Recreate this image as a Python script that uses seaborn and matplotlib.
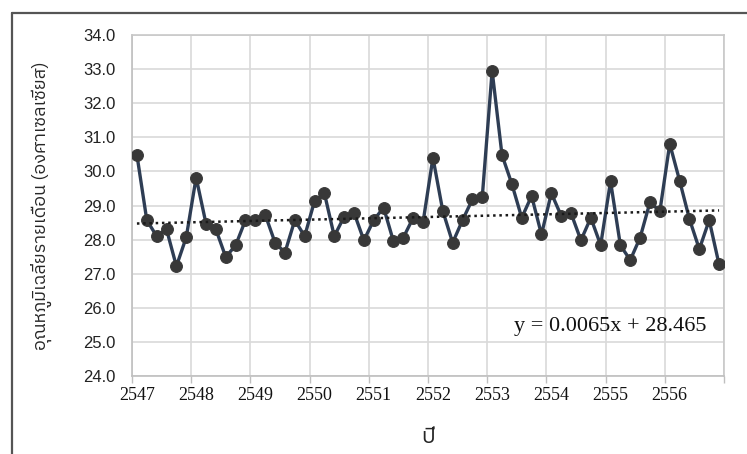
import numpy as np
import pandas as pd
import matplotlib
matplotlib.use("Agg")
import matplotlib.pyplot as plt
from matplotlib import font_manager as fm
from matplotlib.lines import Line2D
import seaborn as sns

# ---------------- data ----------------
year_labels = ["2547", "2548", "2549", "2550", "2551",
               "2552", "2553", "2554", "2555", "2556"]
temps = [30.48, 28.57, 28.10, 28.30, 27.22, 28.07, 29.82, 28.47, 28.30, 27.49,
         27.83, 28.57, 28.57, 28.73, 27.91, 27.62, 28.57, 28.10, 29.13, 29.36,
         28.10, 28.67, 28.79, 27.98, 28.57, 28.94, 27.95, 28.06, 28.64, 28.51,
         30.40, 28.84, 27.91, 28.57, 29.18, 29.25, 32.95, 30.48, 29.63, 28.64,
         29.28, 28.15, 29.36, 28.70, 28.77, 27.98, 28.64, 27.84, 29.71, 27.83,
         27.40, 28.06, 29.10, 28.83, 30.81, 29.73, 28.60, 27.72, 28.57, 27.27]
trend_slope = 0.0065
trend_intercept = 28.465
equation_text = "y = 0.0065x + 28.465"
y_label = "อุณหภูมิเฉลี่ยรายเดือน (องศาเซลเซียส)"
x_label = "ปี"
points_per_year = 6


def find_thai_font():
    try:
        from fontTools.ttLib import TTFont
    except Exception:
        return None
    prefer = []
    other = []
    for f in fm.fontManager.ttflist:
        try:
            tt = TTFont(f.fname, fontNumber=0, lazy=True)
            cmap = tt.getBestCmap()
            if cmap and 0x0E1B in cmap and 0x0E35 in cmap and 0x0E2D in cmap:
                if "sans" in f.name.lower():
                    prefer.append(f.name)
                else:
                    other.append(f.name)
        except Exception:
            pass
    if prefer:
        return prefer[0]
    if other:
        return other[0]
    return None


sns.set_theme(style="white")
thai_font = find_thai_font()
thai_family = [thai_font, "DejaVu Sans"] if thai_font else ["DejaVu Sans"]
plt.rcParams["font.family"] = ["Liberation Serif", "DejaVu Sans"]

n = len(temps)
idx = np.arange(n)
df = pd.DataFrame({"i": idx, "temp": temps})
trend_df = pd.DataFrame({"i": idx, "trend": trend_intercept + trend_slope * (idx + 1)})

fig = plt.figure(figsize=(7.47, 4.54), dpi=100)
ax = fig.add_axes([132 / 747, 1 - 376 / 454, (724 - 132) / 747, (376 - 35) / 454])

sns.lineplot(data=df, x="i", y="temp", ax=ax, color="#2E3D54", linewidth=2.4,
             marker="o", markersize=8.5, markerfacecolor="#383838",
             markeredgecolor="#383838", zorder=3)
sns.lineplot(data=trend_df, x="i", y="trend", ax=ax, color="#1a1a1a",
             linewidth=1.8, linestyle=(0, (1, 1.5)), zorder=4)

ax.set_xlim(-0.5, n - 0.5)
ax.set_ylim(24, 34)
ax.set_yticks(np.arange(24, 34.01, 1.0))
ax.set_yticklabels([f"{v:.1f}" for v in np.arange(24, 34.01, 1.0)],
                   fontfamily=["Liberation Sans"], fontsize=12, color="#222222")

bounds = np.arange(-0.5, n + 0.5, points_per_year)
ax.set_xticks(bounds)
ax.set_xticklabels([""] * len(bounds))
ax.set_xticks(np.arange(0, n, points_per_year), minor=True)
ax.set_xticklabels(year_labels, minor=True, fontsize=13, color="#111111")
ax.tick_params(axis="x", which="major", length=5, width=1, color="#BFBFBF",
               direction="out", bottom=True)
ax.tick_params(axis="x", which="minor", length=0, pad=8, bottom=True)
ax.tick_params(axis="y", which="major", length=0, pad=12)

ax.grid(True, which="major", axis="both", color="#D9D9D9", linewidth=1.2)
ax.set_axisbelow(True)
for s in ["left", "bottom"]:
    ax.spines[s].set_color("#BFBFBF")
    ax.spines[s].set_linewidth(1.2)
for s in ["top", "right"]:
    ax.spines[s].set_color("#C8C8C8")
    ax.spines[s].set_linewidth(1.2)

ax.set_xlabel(x_label, fontfamily=thai_family, fontsize=16, labelpad=16)
ax.set_ylabel(y_label, fontfamily=thai_family, fontsize=13, labelpad=22)

ax.text(0.97, 0.145, equation_text, transform=ax.transAxes, ha="right",
        va="center", fontsize=16, color="#111111", fontfamily=["Liberation Serif"])

# chart frame (left and top edges)
fig.add_artist(Line2D([12 / 747, 12 / 747], [0, 1 - 13 / 454],
                      transform=fig.transFigure, color="#555555", linewidth=1.6))
fig.add_artist(Line2D([12 / 747, 1], [1 - 13 / 454, 1 - 13 / 454],
                      transform=fig.transFigure, color="#555555", linewidth=1.6))

fig.savefig("out.png", dpi=100)
